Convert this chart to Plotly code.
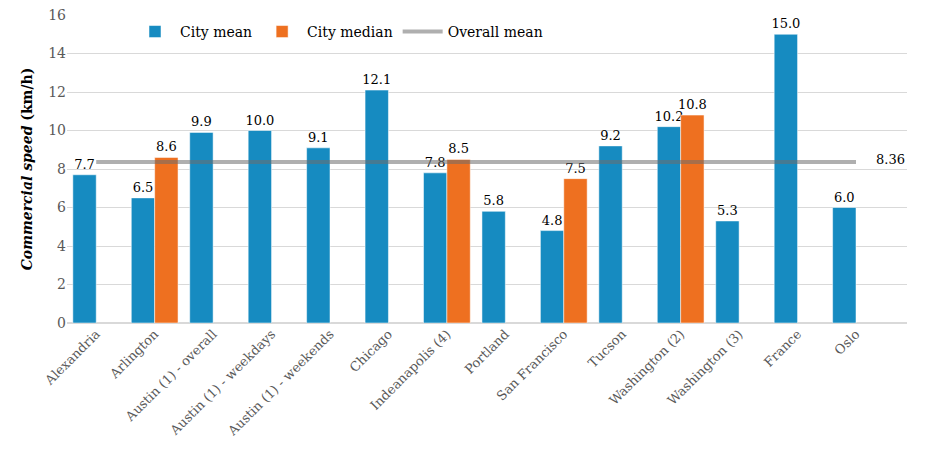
import plotly.graph_objects as go

categories = ["Alexandria", "Arlington", "Austin (1) - overall", "Austin (1) - weekdays",
              "Austin (1) - weekends", "Chicago", "Indeanapolis (4)", "Portland",
              "San Francisco", "Tucson", "Washington (2)", "Washington (3)", "France", "Oslo"]
city_mean = [7.7, 6.5, 9.9, 10.0, 9.1, 12.1, 7.8, 5.8, 4.8, 9.2, 10.2, 5.3, 15.0, 6.0]
city_median = [None, 8.6, None, None, None, None, 8.5, None, 7.5, None, 10.8, None, None, None]
overall_mean = 8.36

FONT = "DejaVu Serif"
BLUE = "#168BC1"
ORANGE = "#EE7020"

fig = go.Figure()
fig.add_trace(go.Bar(
    name="City mean", x=categories, y=city_mean, marker_color=BLUE,
    marker_line=dict(color="rgba(255,255,255,0.5)", width=1),
    text=[f"{v:.1f}" for v in city_mean], textposition="outside", constraintext="none",
    textfont=dict(family=FONT, size=13, color="#000000"), cliponaxis=False,
))
fig.add_trace(go.Bar(
    name="City median", x=categories, y=city_median, marker_color=ORANGE,
    marker_line=dict(color="rgba(255,255,255,0.5)", width=1),
    text=[f"{v:.1f}" if v is not None else "" for v in city_median], textposition="outside",
    constraintext="none",
    textfont=dict(family=FONT, size=13, color="#000000"), cliponaxis=False,
))
fig.add_trace(go.Scatter(
    name="Overall mean", x=categories, y=[overall_mean] * len(categories),
    mode="lines", line=dict(color="rgba(110,110,110,0.55)", width=4),
))

fig.add_annotation(x=categories[-1], y=overall_mean, text=f"{overall_mean:.2f}",
                   showarrow=False, xanchor="left", yanchor="middle", xshift=18, yshift=3,
                   font=dict(family=FONT, size=13, color="#000000"))

fig.update_layout(
    width=937, height=455,
    margin=dict(l=67, r=30, t=15, b=132),
    paper_bgcolor="white", plot_bgcolor="white",
    barmode="group", bargap=0.2, bargroupgap=0,
    font=dict(family=FONT, size=13, color="#595959"),
    showlegend=True,
    legend=dict(orientation="h", x=0.075, y=0.945, xanchor="left", yanchor="middle",
                font=dict(family=FONT, size=14, color="#000000"),
                bgcolor="rgba(255,255,255,0)", itemwidth=40, traceorder="normal"),
    xaxis=dict(tickangle=-45, tickfont=dict(family=FONT, size=13, color="#595959"),
               showgrid=False, showline=False, ticks="", automargin=False),
    yaxis=dict(range=[0, 16], dtick=2, tickfont=dict(family=FONT, size=14, color="#595959"),
               showgrid=True, gridcolor="#D9D9D9", gridwidth=1,
               zeroline=True, zerolinecolor="#D9D9D9", zerolinewidth=2,
               showline=False, ticks="", automargin=False,
               title=dict(text="<b><i>Commercial speed</i> (km/h)</b>",
                          font=dict(family=FONT, size=14, color="#000000"), standoff=12)),
)

fig.write_html("out.html")
